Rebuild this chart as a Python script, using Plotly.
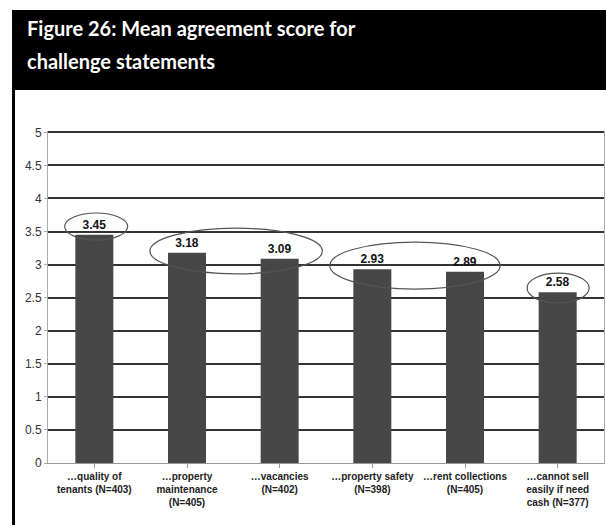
import plotly.graph_objects as go

# Challenge statements and their mean agreement scores
categories = [
    "…quality of<br>tenants (N=403)",
    "…property<br>maintenance<br>(N=405)",
    "…vacancies<br>(N=402)",
    "…property safety<br>(N=398)",
    "…rent collections<br>(N=405)",
    "…cannot sell<br>easily if need<br>cash (N=377)",
]
scores = [3.45, 3.18, 3.09, 2.93, 2.89, 2.58]
score_labels = ["3.45", "3.18", "3.09", "2.93", "2.89", "2.58"]
y_ticks = [0, 0.5, 1, 1.5, 2, 2.5, 3, 3.5, 4, 4.5, 5]
y_tick_labels = ["0", "0.5", "1", "1.5", "2", "2.5", "3", "3.5", "4", "4.5", "5"]

# Ellipses grouping related statements: (x0, x1, y0, y1) in axis units
groups = [
    (-0.32, 0.36, 3.37, 3.78),
    (0.60, 2.46, 2.86, 3.55),
    (2.54, 4.38, 2.63, 3.34),
    (4.67, 5.34, 2.42, 2.87),
]

title_lines = ["Figure 26: Mean agreement score for", "challenge statements"]

fig = go.Figure()
fig.add_trace(go.Bar(
    x=list(range(len(categories))),
    y=scores,
    text=["<b>" + s + "</b>" for s in score_labels],
    textposition="outside",
    textfont=dict(family="Liberation Sans, Arial, sans-serif", size=12, color="#111"),
    marker=dict(color="#474747", line=dict(width=0)),
    width=0.41,
    cliponaxis=False,
    showlegend=False,
))

shapes = []
for x0, x1, y0, y1 in groups:
    shapes.append(dict(type="circle", xref="x", yref="y", x0=x0, x1=x1, y0=y0, y1=y1,
                       line=dict(color="#555", width=1.2), layer="above"))

# Header band and left rule (paper units: plot area spans 48..604 px, 463..131 px)
shapes.append(dict(type="rect", xref="paper", yref="paper",
                   x0=-0.0647, x1=1.01, y0=1.1235, y1=1.3645,
                   fillcolor="black", line=dict(width=0), layer="above"))
shapes.append(dict(type="rect", xref="paper", yref="paper",
                   x0=-0.0647, x1=-0.0593, y0=-0.2, y1=1.13,
                   fillcolor="black", line=dict(width=0), layer="above"))

annotations = []
for i, line in enumerate(title_lines):
    annotations.append(dict(
        text="<b>" + line + "</b>", xref="paper", yref="paper",
        x=-0.0414, y=[1.309, 1.211][i], xanchor="left", yanchor="middle",
        showarrow=False,
        font=dict(family="Lato, 'Open Sans', sans-serif", size=20, color="white"),
    ))

fig.update_layout(
    width=606, height=525,
    margin=dict(l=48, r=2, t=131, b=62),
    paper_bgcolor="white", plot_bgcolor="white",
    shapes=shapes, annotations=annotations,
    xaxis=dict(
        tickmode="array",
        tickvals=list(range(len(categories))),
        ticktext=["<b>" + c.replace("<br>", "</b><br><b>") + "</b>" for c in categories],
        range=[-0.5, 5.5],
        tickson="boundaries",
        ticks="outside", ticklen=4, tickcolor="#999",
        showgrid=False, showline=True, linecolor="#999", linewidth=1,
        tickfont=dict(family="'Liberation Sans Narrow', 'Arial Narrow', sans-serif",
                      size=10, color="#222"),
        tickangle=0,
    ),
    yaxis=dict(
        range=[0, 5.02],
        tickmode="array", tickvals=y_ticks, ticktext=y_tick_labels,
        showgrid=True, gridcolor="#333", gridwidth=1.6,
        zeroline=True, zerolinecolor="#999", zerolinewidth=1,
        showline=True, linecolor="#aaa", linewidth=1, mirror=True,
        ticks="outside", ticklen=3, tickcolor="#aaa",
        tickfont=dict(family="Liberation Sans, Arial, sans-serif", size=12, color="#333"),
    ),
)

fig.write_html("out.html")
